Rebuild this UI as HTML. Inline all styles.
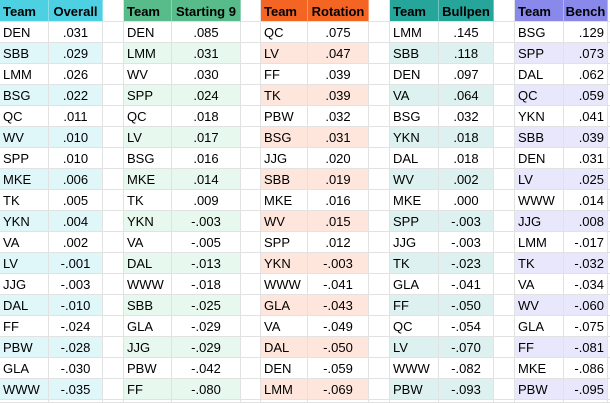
<!DOCTYPE html>
<html><head><meta charset="utf-8"><style>
html,body{margin:0;padding:0;background:#fff;}
body{width:610px;height:402px;overflow:hidden;}
.grid{display:grid;grid-template-columns:49px 54px 21px 48px 69px 20px 47px 61px 21px 49px 55px 21px 49px 44px 3px;grid-template-rows:22px repeat(18,21px) 3px;font-family:"Liberation Sans",Arial,sans-serif;font-size:13px;color:#000;}
.grid>div{box-sizing:border-box;border-right:1px solid #e2e2e2;border-bottom:1px solid #e2e2e2;line-height:22px;white-space:nowrap;overflow:visible;}
.grid>div.h{font-weight:bold;line-height:24px;border-right-color:rgba(255,255,255,.35);}
.t{padding-left:3px;text-align:left;}
.v{text-align:center;}
.r{text-align:right;padding-right:3px;}
.h1{background:#4dd0e1}.a1{background:#e0f7fa}
.h2{background:#57bb8a}.a2{background:#e7f9ef}
.h3{background:#f46524}.a3{background:#ffe6dd}
.h4{background:#26a69a}.a4{background:#ddf2f0}
.h5{background:#8989eb}.a5{background:#e8e7fc}
.grid>div.h.g{border-right-color:#e2e2e2}
</style></head><body><div class="grid">
<div class="h h1 t">Team</div><div class="h h1 v">Overall</div><div class="g"></div><div class="h h2 t">Team</div><div class="h h2 v">Starting 9</div><div class="g"></div><div class="h h3 t">Team</div><div class="h h3 v">Rotation</div><div class="g"></div><div class="h h4 t">Team</div><div class="h h4 v">Bullpen</div><div class="g"></div><div class="h h5 t">Team</div><div class="h h5 v">Bench</div><div class="g"></div>

<div class="t">DEN</div><div class="v">.031</div><div></div><div class="t">DEN</div><div class="v">.085</div><div></div><div class="t">QC</div><div class="v">.075</div><div></div><div class="t">LMM</div><div class="v">.145</div><div></div><div class="t">BSG</div><div class="r">.129</div><div></div>

<div class="t a1">SBB</div><div class="v a1">.029</div><div></div><div class="t a2">LMM</div><div class="v a2">.031</div><div></div><div class="t a3">LV</div><div class="v a3">.047</div><div></div><div class="t a4">SBB</div><div class="v a4">.118</div><div></div><div class="t a5">SPP</div><div class="r a5">.073</div><div></div>

<div class="t">LMM</div><div class="v">.026</div><div></div><div class="t">WV</div><div class="v">.030</div><div></div><div class="t">FF</div><div class="v">.039</div><div></div><div class="t">DEN</div><div class="v">.097</div><div></div><div class="t">DAL</div><div class="r">.062</div><div></div>

<div class="t a1">BSG</div><div class="v a1">.022</div><div></div><div class="t a2">SPP</div><div class="v a2">.024</div><div></div><div class="t a3">TK</div><div class="v a3">.039</div><div></div><div class="t a4">VA</div><div class="v a4">.064</div><div></div><div class="t a5">QC</div><div class="r a5">.059</div><div></div>

<div class="t">QC</div><div class="v">.011</div><div></div><div class="t">QC</div><div class="v">.018</div><div></div><div class="t">PBW</div><div class="v">.032</div><div></div><div class="t">BSG</div><div class="v">.032</div><div></div><div class="t">YKN</div><div class="r">.041</div><div></div>

<div class="t a1">WV</div><div class="v a1">.010</div><div></div><div class="t a2">LV</div><div class="v a2">.017</div><div></div><div class="t a3">BSG</div><div class="v a3">.031</div><div></div><div class="t a4">YKN</div><div class="v a4">.018</div><div></div><div class="t a5">SBB</div><div class="r a5">.039</div><div></div>

<div class="t">SPP</div><div class="v">.010</div><div></div><div class="t">BSG</div><div class="v">.016</div><div></div><div class="t">JJG</div><div class="v">.020</div><div></div><div class="t">DAL</div><div class="v">.018</div><div></div><div class="t">DEN</div><div class="r">.031</div><div></div>

<div class="t a1">MKE</div><div class="v a1">.006</div><div></div><div class="t a2">MKE</div><div class="v a2">.014</div><div></div><div class="t a3">SBB</div><div class="v a3">.019</div><div></div><div class="t a4">WV</div><div class="v a4">.002</div><div></div><div class="t a5">LV</div><div class="r a5">.025</div><div></div>

<div class="t">TK</div><div class="v">.005</div><div></div><div class="t">TK</div><div class="v">.009</div><div></div><div class="t">MKE</div><div class="v">.016</div><div></div><div class="t">MKE</div><div class="v">.000</div><div></div><div class="t">WWW</div><div class="r">.014</div><div></div>

<div class="t a1">YKN</div><div class="v a1">.004</div><div></div><div class="t a2">YKN</div><div class="v a2">-.003</div><div></div><div class="t a3">WV</div><div class="v a3">.015</div><div></div><div class="t a4">SPP</div><div class="v a4">-.003</div><div></div><div class="t a5">JJG</div><div class="r a5">.008</div><div></div>

<div class="t">VA</div><div class="v">.002</div><div></div><div class="t">VA</div><div class="v">-.005</div><div></div><div class="t">SPP</div><div class="v">.012</div><div></div><div class="t">JJG</div><div class="v">-.003</div><div></div><div class="t">LMM</div><div class="r">-.017</div><div></div>

<div class="t a1">LV</div><div class="v a1">-.001</div><div></div><div class="t a2">DAL</div><div class="v a2">-.013</div><div></div><div class="t a3">YKN</div><div class="v a3">-.003</div><div></div><div class="t a4">TK</div><div class="v a4">-.023</div><div></div><div class="t a5">TK</div><div class="r a5">-.032</div><div></div>

<div class="t">JJG</div><div class="v">-.003</div><div></div><div class="t">WWW</div><div class="v">-.018</div><div></div><div class="t">WWW</div><div class="v">-.041</div><div></div><div class="t">GLA</div><div class="v">-.041</div><div></div><div class="t">VA</div><div class="r">-.034</div><div></div>

<div class="t a1">DAL</div><div class="v a1">-.010</div><div></div><div class="t a2">SBB</div><div class="v a2">-.025</div><div></div><div class="t a3">GLA</div><div class="v a3">-.043</div><div></div><div class="t a4">FF</div><div class="v a4">-.050</div><div></div><div class="t a5">WV</div><div class="r a5">-.060</div><div></div>

<div class="t">FF</div><div class="v">-.024</div><div></div><div class="t">GLA</div><div class="v">-.029</div><div></div><div class="t">VA</div><div class="v">-.049</div><div></div><div class="t">QC</div><div class="v">-.054</div><div></div><div class="t">GLA</div><div class="r">-.075</div><div></div>

<div class="t a1">PBW</div><div class="v a1">-.028</div><div></div><div class="t a2">JJG</div><div class="v a2">-.029</div><div></div><div class="t a3">DAL</div><div class="v a3">-.050</div><div></div><div class="t a4">LV</div><div class="v a4">-.070</div><div></div><div class="t a5">FF</div><div class="r a5">-.081</div><div></div>

<div class="t">GLA</div><div class="v">-.030</div><div></div><div class="t">PBW</div><div class="v">-.042</div><div></div><div class="t">DEN</div><div class="v">-.059</div><div></div><div class="t">WWW</div><div class="v">-.082</div><div></div><div class="t">MKE</div><div class="r">-.086</div><div></div>

<div class="t a1">WWW</div><div class="v a1">-.035</div><div></div><div class="t a2">FF</div><div class="v a2">-.080</div><div></div><div class="t a3">LMM</div><div class="v a3">-.069</div><div></div><div class="t a4">PBW</div><div class="v a4">-.093</div><div></div><div class="t a5">PBW</div><div class="r a5">-.095</div><div></div>

<div></div><div></div><div></div><div></div><div></div><div></div><div></div><div></div><div></div><div></div><div></div><div></div><div></div><div></div><div></div>
</div></body></html>
